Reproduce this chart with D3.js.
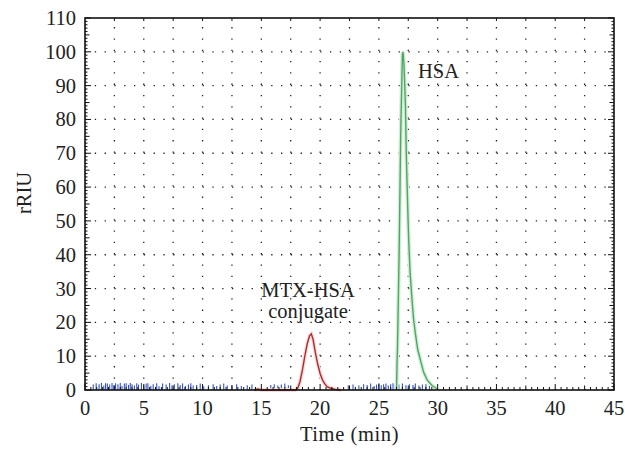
<!DOCTYPE html>
<html>
<head>
<meta charset="utf-8">
<script src="https://cdn.jsdelivr.net/npm/d3@7"></script>
<style>
  html, body { margin: 0; padding: 0; background: #fff; }
  svg { display: block; }
</style>
</head>
<body>
<svg id="chart" width="625" height="449"></svg>
<script>
// Axis ticks
const xTicks = [0, 5, 10, 15, 20, 25, 30, 35, 40, 45];
const yTicks = [0, 10, 20, 30, 40, 50, 60, 70, 80, 90, 100, 110];

// MTX-HSA conjugate trace (time in min, rRIU)
const conjugateTime  = [14.4, 14.7, 15.0, 17.9, 18.1, 18.3, 18.5, 18.7, 18.9, 19.1, 19.25, 19.4, 19.6, 19.8, 20.0, 20.2, 20.4, 20.6, 20.9, 21.3, 21.8];
const conjugateValue = [0, 0.3, 0, 0, 0.6, 2.6, 6.0, 10.0, 13.6, 16.0, 16.6, 15.0, 11.0, 7.6, 4.9, 3.0, 1.8, 1.0, 0.5, 0.2, 0.05];

// HSA trace
const hsaTime  = [26.5, 26.55, 26.58, 26.7, 26.72, 26.85, 26.88, 27.0, 27.05, 27.12, 27.2, 27.26, 27.33, 27.4, 27.47, 27.54, 27.65, 27.82, 27.95, 28.1, 28.3, 28.53, 28.8, 29.1, 29.5, 29.95];
const hsaValue = [0, 9, 12, 36, 40, 74, 80, 99, 100, 97, 90, 84, 70, 61, 52, 44, 35, 26.6, 21, 16.8, 12, 8.9, 5.3, 3.0, 1.4, 0.3];

// Baseline noise spikes
const noiseTime = [0.7, 0.95, 1.2, 1.4, 1.6, 1.75, 1.9, 2.1, 2.3, 2.45, 2.6, 2.8, 3.0, 3.15, 3.35, 3.5, 3.7, 3.85, 4.0, 4.2,
  4.4, 4.55, 4.8, 5.0, 5.2, 5.35, 5.6, 5.8, 6.1, 6.3, 6.6, 6.9, 7.2, 7.4, 7.6, 7.9, 8.1, 8.3, 8.55, 8.8,
  9.0, 9.2, 9.5, 9.8, 10.1, 10.5, 10.9, 11.2, 11.5, 11.8, 12.1, 12.5, 12.9, 13.3, 13.8, 14.2, 15.8, 16.1, 16.4, 16.7,
  17.0, 17.3, 22.4, 22.8, 23.3, 23.7, 24.0, 24.3, 24.6, 24.8, 25.0, 25.2, 25.4, 25.6, 25.8, 26.0, 26.2, 26.4, 26.7, 27.0,
  27.3, 27.6, 27.9, 28.1, 28.4, 28.7, 29.0, 29.3];
const noiseValue = [1.6, 2.0, 1.7, 2.1, 1.3, 2.0, 1.9, 1.6, 2.1, 1.4, 2.0, 1.7, 2.1, 1.2, 1.9, 2.0, 1.5, 2.1, 1.7, 1.3,
  2.0, 1.6, 2.1, 1.4, 1.9, 2.0, 1.2, 1.7, 2.0, 1.1, 1.9, 1.6, 2.1, 1.3, 1.7, 2.0, 1.4, 1.9, 1.2, 1.6,
  2.0, 1.3, 1.5, 1.9, 1.1, 1.4, 1.7, 1.2, 1.6, 1.9, 1.3, 1.5, 1.7, 1.2, 1.4, 1.6, 1.5, 1.7, 1.3, 1.6,
  1.9, 1.4, 1.4, 1.6, 1.3, 1.7, 1.5, 1.9, 1.2, 1.6, 2.0, 1.4, 1.7, 1.9, 1.3, 1.7, 2.0, 1.5, 1.6, 1.9,
  1.4, 1.7, 1.5, 1.9, 1.3, 1.6, 1.7, 1.2];

const svg = d3.select("#chart");
const margin = { left: 85, right: 11, top: 18, bottom: 59 };
const W = 625, H = 449;

const x = d3.scaleLinear().domain([0, 45]).range([margin.left, W - margin.right]);
const y = d3.scaleLinear().domain([0, 110]).range([H - margin.bottom, margin.top]);

// Serif label helper
const label = sel => sel
  .style("font-family", '"Liberation Serif"')
  .attr("font-size", 20.5)
  .attr("fill", "#222");

const plot = svg.append("g");

// Dotted grid
const gridH = d3.range(10, 110, 10);
const gridV = d3.range(2.5, 45, 2.5);
plot.selectAll("line.gh").data(gridH).join("line")
  .attr("x1", x(0)).attr("x2", x(45))
  .attr("y1", d => y(d)).attr("y2", d => y(d))
  .attr("stroke", "#222").attr("stroke-width", 1.3)
  .attr("stroke-dasharray", "1.3,8.5");
plot.selectAll("line.gv").data(gridV).join("line")
  .attr("x1", d => x(d)).attr("x2", d => x(d))
  .attr("y1", y(0)).attr("y2", y(110))
  .attr("stroke", "#222").attr("stroke-width", 1.3)
  .attr("stroke-dasharray", "1.3,10");

// Noise spikes
plot.selectAll("line.noise").data(noiseTime.map((t, i) => [t, noiseValue[i]])).join("line")
  .attr("x1", d => x(d[0])).attr("x2", d => x(d[0]))
  .attr("y1", y(0)).attr("y2", d => y(d[1]))
  .attr("stroke", "#3452c4").attr("stroke-width", 1.1);

const line = d3.line().x(d => x(d[0])).y(d => y(d[1]));
const conjugate = conjugateTime.map((t, i) => [t, conjugateValue[i]]);
const hsa = hsaTime.map((t, i) => [t, hsaValue[i]]);

// Soft halos under the traces
plot.append("path").datum(conjugate).attr("d", line)
  .attr("fill", "none").attr("stroke", "#f2dede").attr("stroke-width", 4);
plot.append("path").datum(hsa).attr("d", line)
  .attr("fill", "none").attr("stroke", "#d6ecda").attr("stroke-width", 4);

plot.append("path").datum(conjugate).attr("d", line)
  .attr("fill", "none").attr("stroke", "#b02c2c").attr("stroke-width", 1.4);
plot.append("path").datum(hsa).attr("d", line)
  .attr("fill", "none").attr("stroke", "#4caa5f").attr("stroke-width", 1.4);

// Axes with inward ticks
const axisG = svg.append("g");
const tick = (x1, y1, x2, y2) => axisG.append("line")
  .attr("x1", x1).attr("y1", y1).attr("x2", x2).attr("y2", y2)
  .attr("stroke", "#111").attr("stroke-width", 1);

d3.range(0, 45.01, 0.5).forEach(v => {
  const len = v % 5 === 0 ? 6 : (v % 2.5 === 0 ? 4.5 : 3);
  tick(x(v), y(0), x(v), y(0) - len);
});
d3.range(0, 110.01, 1).forEach(v => {
  const len = v % 10 === 0 ? 6 : (v % 5 === 0 ? 4.5 : 2.5);
  tick(x(0), y(v), x(0) + len, y(v));
  tick(x(45), y(v), x(45) - len, y(v));
});
d3.range(2.5, 45, 2.5).forEach(v => tick(x(v), y(110), x(v), y(110) + 3));

axisG.append("rect")
  .attr("x", x(0)).attr("y", y(110))
  .attr("width", x(45) - x(0)).attr("height", y(0) - y(110))
  .attr("fill", "none").attr("stroke", "#111").attr("stroke-width", 1.6);

// Tick labels
svg.selectAll("text.xt").data(xTicks).join("text")
  .call(label)
  .attr("x", d => x(d)).attr("y", y(0) + 25)
  .attr("text-anchor", "middle")
  .text(d => d);
svg.selectAll("text.yt").data(yTicks).join("text")
  .call(label)
  .attr("x", x(0) - 9).attr("y", d => y(d) + 7)
  .attr("text-anchor", "end")
  .text(d => d);

// Axis titles
svg.append("text").call(label)
  .attr("x", x(22.5)).attr("y", 441)
  .attr("text-anchor", "middle").attr("letter-spacing", 0.6)
  .text("Time (min)");
svg.append("text").call(label)
  .attr("transform", "translate(31,193) rotate(-90)")
  .attr("text-anchor", "middle")
  .text("rRIU");

// Peak labels
svg.append("text").call(label).attr("x", 418).attr("y", 78).text("HSA");
svg.append("text").call(label).attr("x", 308).attr("y", 297).attr("text-anchor", "middle").text("MTX-HSA");
svg.append("text").call(label).attr("x", 308).attr("y", 318).attr("text-anchor", "middle").text("conjugate");
</script>
</body>
</html>
